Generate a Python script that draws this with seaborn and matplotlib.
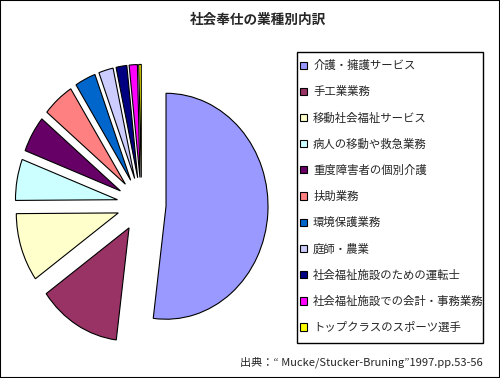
import matplotlib.pyplot as plt
from matplotlib.patches import Rectangle
import seaborn as sns

# 業種ごとの割合 (%)
jobs = ["介護・擁護サービス", "手工業業務", "移動社会福祉サービス", "病人の移動や救急業務",
        "重度障害者の個別介護", "扶助業務", "環境保護業務", "庭師・農業",
        "社会福祉施設のための運転士", "社会福祉施設での会計・事務業務", "トップクラスのスポーツ選手"]
shares = [52.0, 13.1, 9.8, 5.9, 5.2, 5.0, 3.3, 2.3, 1.7, 1.3, 0.4]
colors = ["#9999FF", "#993366", "#FFFFCC", "#CCFFFF", "#660066", "#FF8080",
          "#0066CC", "#CCCCFF", "#000080", "#FF00FF", "#FFFF00"]

title = "社会奉仕の業種別内訳"
source = "出典：“ Mucke/Stucker-Bruning”1997.pp.53-56"

sns.set_theme(style="white")
plt.rcParams['font.family'] = ['Noto Sans CJK JP', 'DejaVu Sans']

W, H = 500, 378
fig = plt.figure(figsize=(5, 3.78), dpi=100)
ax = fig.add_axes([0, 0.0476, 0.58, 0.8333])

wedges, _ = ax.pie(shares, colors=colors, startangle=90, counterclock=False,
                   explode=[0.24] * len(shares),
                   wedgeprops=dict(edgecolor='black', linewidth=0.8))
# the original pie is a little taller than wide
ax.set_aspect('auto')
ax.set_xlim(-1.388, 1.455)
ax.set_ylim(-1.376, 1.412)

# legend box drawn separately so its size matches the original
fig.patches.append(Rectangle((297 / W, 1 - 343 / H), 186 / W, 291 / H,
                             transform=fig.transFigure, fill=False,
                             edgecolor='black', linewidth=1.0))
fig.legend(wedges, jobs, loc='upper left', bbox_to_anchor=(300 / W, 1 - 60 / H),
           frameon=False, fontsize=8.2,
           handlelength=0.6, handleheight=0.6, handletextpad=0.55,
           labelspacing=1.32, borderpad=0, borderaxespad=0)

fig.text(257.5 / W, 1 - 20 / H, title, ha='center', va='center',
         fontsize=9.8, fontweight='bold')
fig.text(483 / W, 1 - 362 / H, source, ha='right', va='center', fontsize=8)

# outer chart border
fig.patches.append(Rectangle((0, 0), 1, 1, transform=fig.transFigure,
                             fill=False, edgecolor='black', linewidth=1.5))

fig.savefig('out.png', dpi=100)
